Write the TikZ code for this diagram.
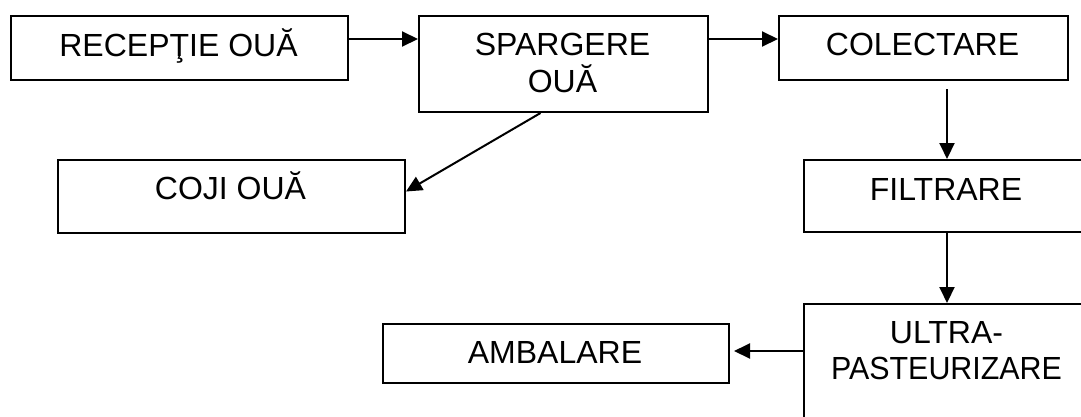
\documentclass[tikz,border=0pt]{standalone}
\usepackage{fontspec}
\setmainfont{Liberation Sans}
\usetikzlibrary{arrows.meta,calc}

\tikzset{
  stage/.style={draw, line width=2pt, inner sep=0pt, anchor=north west},
  caption/.style={anchor=base, inner sep=0pt, font=\fontsize{32}{36}\selectfont},
  flow/.style={line width=2pt, -{Triangle[length=16pt,width=15pt]}},
}

\begin{document}
\begin{tikzpicture}[x=1pt, y=-1pt]
  \path[use as bounding box] (0,0) rectangle (1081,416);
  \clip (0,0) rectangle (1081,416);

  % process boxes (top-left corner, width, height)
  \node[stage, minimum width=337pt, minimum height=64pt]  (rec)  at (10,15)  {};
  \node[stage, minimum width=289pt, minimum height=96pt]  (spa)  at (418,15) {};
  \node[stage, minimum width=289pt, minimum height=64pt]  (col)  at (778,15) {};
  \node[stage, minimum width=347pt, minimum height=73pt]  (coji) at (57,159) {};
  \node[stage, minimum width=286pt, minimum height=72pt]  (fil)  at (803,159) {};
  \node[stage, minimum width=287pt, minimum height=137pt] (ult)  at (803,303) {};
  \node[stage, minimum width=346pt, minimum height=59pt]  (amb)  at (382,323) {};

  % box captions, set on their baselines
  \node[caption] (recT)  at (178.5,56) {RECEPŢIE OUĂ};
  \node[caption] (spaT1) at (562.5,55) {SPARGERE};
  \node[caption] (spaT2) at (562.5,92) {OUĂ};
  \node[caption] (colT)  at (922.5,55) {COLECTARE};
  \node[caption] (cojiT) at (230.5,199) {COJI OUĂ};
  \node[caption] (filT)  at (946,200) {FILTRARE};
  \node[caption] (ultT1) at (946.5,343) {ULTRA-};
  \node[caption] (ultT2) at (946.5,379) {\scalebox{0.95}[1]{PASTEURIZARE}};
  \node[caption] (ambT)  at (555,363) {AMBALARE};

  % connectors
  \coordinate (recOut) at ($(rec.north east)+(0,24)$);
  \draw[flow] (recOut) -- (spa.west |- recOut);
  \coordinate (spaOut) at ($(spa.north east)+(0,24)$);
  \draw[flow] (spaOut) -- (col.west |- spaOut);
  \draw[flow] ($(spa.south)+(-23,0)$) -- ($(coji.east)+(0,-5)$);
  \draw[flow] ($(fil.north |- col.south)+(0,8)$) -- (fil.north);
  \draw[flow] (fil.south) -- (fil.south |- ult.north);
  \coordinate (ultOut) at ($(ult.north west)+(0,48)$);
  \draw[flow] (ultOut) -- ($(amb.east |- ultOut)+(4,0)$);
\end{tikzpicture}
\end{document}
